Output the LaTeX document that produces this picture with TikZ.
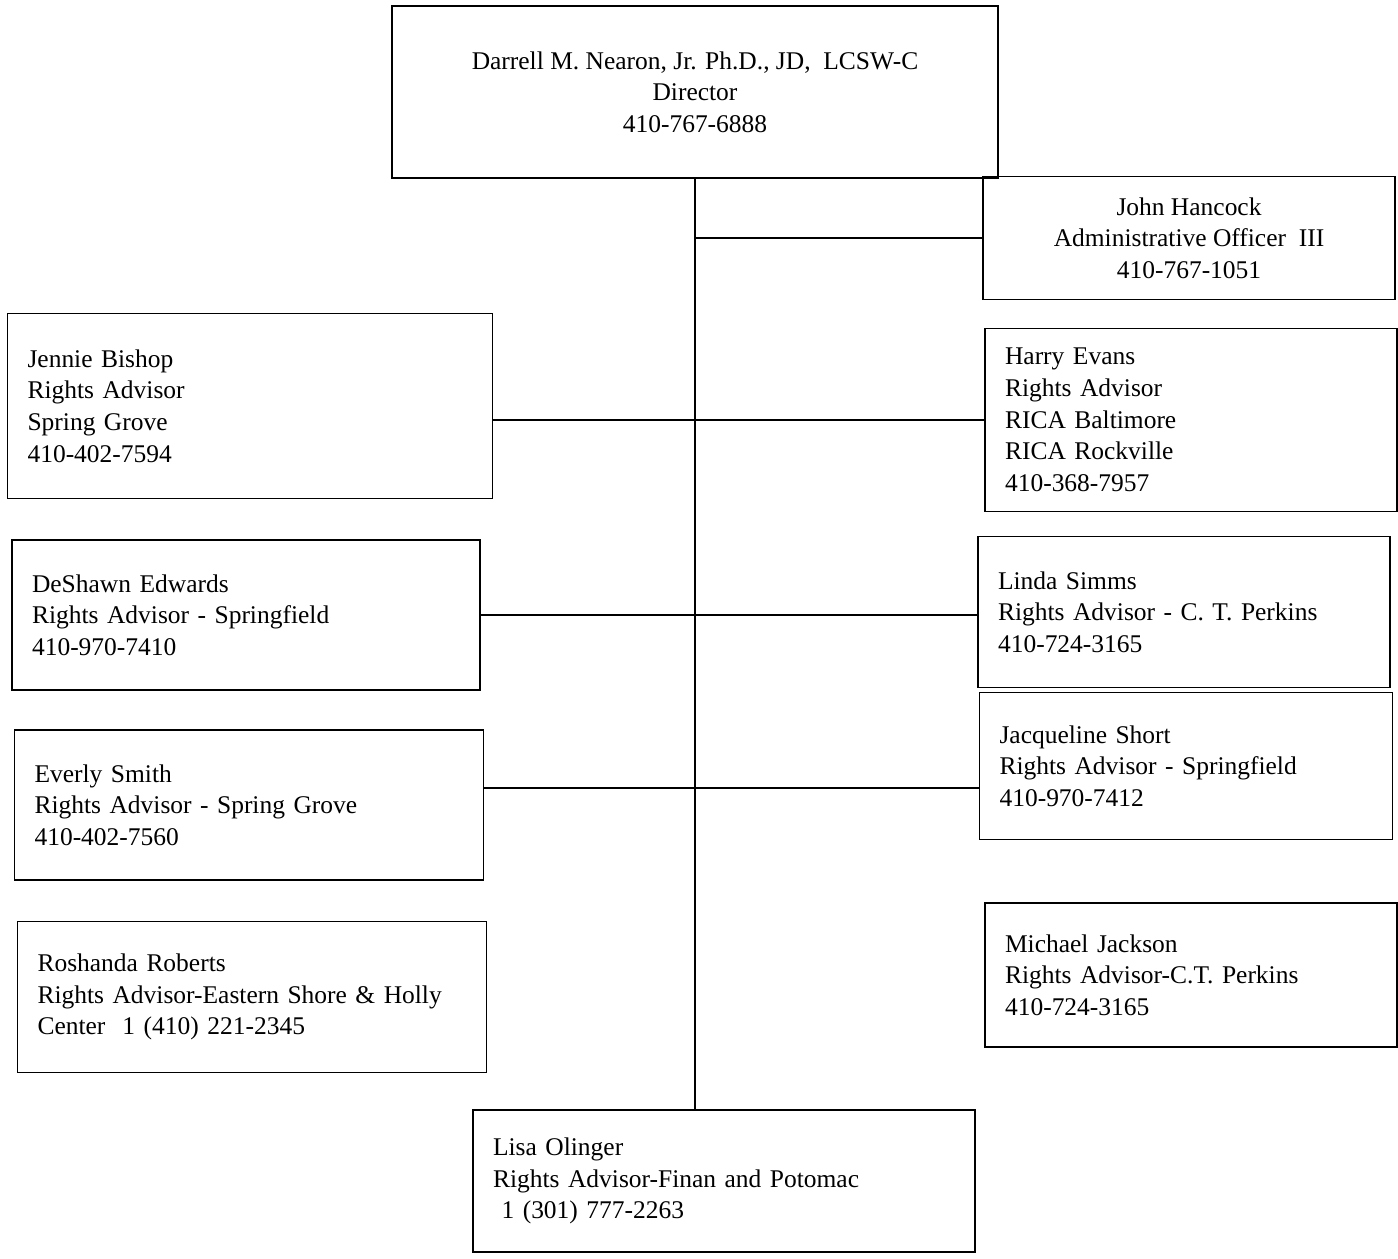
\documentclass[tikz,border=0pt]{standalone}
\usepackage{fontspec}
\setmainfont{Liberation Serif}
\usepackage{tikz}

\begin{document}
\begin{tikzpicture}[x=0.02cm, y=-0.02cm, line width=0.8pt,
        every node/.style={draw, rectangle, font=\fontsize{14.5}{18}\selectfont},
        midbox/.style={align=center, inner sep=0pt},
        sidebox/.style={align=left, inner xsep=0.4cm, inner ysep=0pt}]
        \useasboundingbox (0,0) rectangle (1398,1258);

        % top of the chart
        \node[midbox, minimum width=12.12cm, minimum height=3.44cm] (dir) at (695,92)
            {Darrell M. Nearon, Jr. Ph.D., JD,\ \ LCSW-C\\ Director\\ 410-767-6888};
        \node[midbox, minimum width=8.24cm, minimum height=2.46cm] (john) at (1189,238)
            {John Hancock\\ Administrative Officer\ \ III\\ 410-767-1051};

        % left column
        \node[sidebox, text width=8.9cm, minimum height=3.7cm] (jennie) at (250,406)
            {Jennie Bishop\\ Rights Advisor\\ Spring Grove\\ 410-402-7594};
        \node[sidebox, text width=8.56cm, minimum height=3.0cm] (deshawn) at (246,615)
            {DeShawn Edwards\\ Rights Advisor - Springfield\\ 410-970-7410};
        \node[sidebox, text width=8.58cm, minimum height=3.0cm] (everly) at (249,805)
            {Everly Smith\\ Rights Advisor - Spring Grove\\ 410-402-7560};
        \node[sidebox, text width=8.58cm, minimum height=3.02cm] (roshanda) at (252,997)
            {Roshanda Roberts\\ Rights Advisor-Eastern Shore \& Holly\\ Center\ \ 1 (410) 221-2345};

        % right column
        \node[sidebox, text width=7.44cm, minimum height=3.66cm] (harry) at (1191,420)
            {Harry Evans\\ Rights Advisor\\ RICA Baltimore\\ RICA Rockville\\ 410-368-7957};
        \node[sidebox, text width=7.44cm, minimum height=3.02cm] (linda) at (1184,612)
            {Linda Simms\\ Rights Advisor - C. T. Perkins\\ 410-724-3165};
        \node[sidebox, text width=7.46cm, minimum height=2.94cm] (jacq) at (1186,766)
            {Jacqueline Short\\ Rights Advisor - Springfield\\ 410-970-7412};
        \node[sidebox, text width=7.44cm, minimum height=2.88cm] (michael) at (1191,975)
            {Michael Jackson\\ Rights Advisor-C.T. Perkins\\ 410-724-3165};

        % bottom
        \node[sidebox, text width=9.24cm, minimum height=2.84cm] (lisa) at (724,1181)
            {Lisa Olinger\\ Rights Advisor-Finan and Potomac\\ \ 1 (301) 777-2263};

        \draw (dir.south) -- (dir.south |- lisa.north);
        \draw (john.west) -- (john.west -| dir.south);
        \draw (jennie.east |- harry.west) -- (harry.west);
        \draw (deshawn.east) -- (deshawn.east -| linda.west);
        \path ([yshift=0.34cm]everly.east) coordinate (ev);
        \draw (ev) -- (ev -| jacq.west);
    \end{tikzpicture}
\end{document}
